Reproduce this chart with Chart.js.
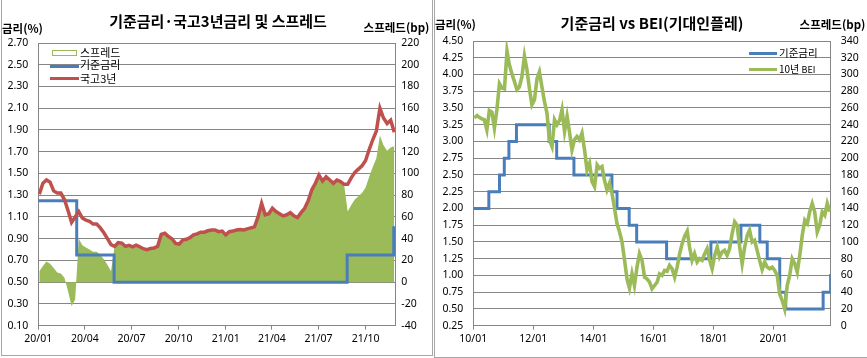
<!DOCTYPE html>
<html><head><meta charset="utf-8">
<script src="https://cdn.jsdelivr.net/npm/chart.js@4.4.1/dist/chart.umd.min.js"></script>
<style>
html,body{margin:0;padding:0;background:#fff;}
body{width:867px;height:358px;position:relative;overflow:hidden;font-family:"Noto Sans CJK KR","Noto Sans",sans-serif;color:#000;}
canvas{position:absolute;top:0;}
.frame{position:absolute;border:1px solid #a6a6a6;box-sizing:border-box;pointer-events:none;}
.t{position:absolute;white-space:nowrap;line-height:1;transform:translate(-50%,-50%);}
.b{font-weight:bold;}
.lg{position:absolute;white-space:nowrap;line-height:1;transform:translateY(-50%);font-size:11px;}
.ln{position:absolute;height:3px;}
</style></head>
<body>
<div class="frame" style="left:1px;top:-1px;width:432px;height:357px;"></div>
<div class="frame" style="left:434px;top:-1px;width:440px;height:359px;"></div>
<canvas id="c1" width="433" height="358" style="left:0"></canvas>
<canvas id="c2" width="434" height="358" style="left:433px"></canvas>

<div class="t b" style="left:218px;top:20px;font-size:15px;">기준금리·국고3년금리 및 스프레드</div>
<div class="t b" style="left:22.5px;top:29px;font-size:11.5px;">금리(%)</div>
<div class="t b" style="left:396.5px;top:27.5px;font-size:11.5px;">스프레드(bp)</div>
<div style="position:absolute;left:52px;top:50px;width:25px;height:6px;border:1px solid #9BBB59;box-sizing:border-box;background:#fff;"></div>
<div class="lg" style="left:80px;top:52px;">스프레드</div>
<div class="ln" style="left:50px;top:64.5px;width:29px;background:#4A7EBB;"></div>
<div class="lg" style="left:80px;top:64px;">기준금리</div>
<div class="ln" style="left:50px;top:77px;width:29px;background:#C0504D;"></div>
<div class="lg" style="left:80px;top:78px;">국고3년</div>

<div class="t b" style="left:652px;top:21.5px;font-size:15px;">기준금리 vs BEI(기대인플레)</div>
<div class="t b" style="left:455.5px;top:25px;font-size:11.5px;">금리(%)</div>
<div class="t b" style="left:832.5px;top:25px;font-size:11.5px;">스프레드(bp)</div>
<div class="ln" style="left:749px;top:51.5px;width:28px;background:#4A7EBB;"></div>
<div class="lg" style="left:779px;top:53px;font-size:10.5px;">기준금리</div>
<div class="ln" style="left:749px;top:68px;width:28px;background:#9BBB59;"></div>
<div class="lg" style="left:779px;top:69px;font-size:10px;">10년 <span style="font-size:9px">BEI</span></div>

<script>
// ---------- Left chart data ----------
const leftBase = '2020-01-01';
const leftXMax = '2021-11-28';
const leftTickDates = ['2020-01-01','2020-04-01','2020-07-01','2020-10-01','2021-01-01','2021-04-01','2021-07-01','2021-10-01'];
const leftTickLabels = ['20/01','20/04','20/07','20/10','21/01','21/04','21/07','21/10'];
const weeklyStart = '2020-01-03'; // weekly observations (every 7 days)
const ktb3y = [1.31,1.41,1.44,1.42,1.34,1.32,1.32,1.26,1.16,1.05,
 1.10,1.15,1.09,1.07,1.06,1.035,1.035,1.00,0.955,0.90,
 0.845,0.83,0.865,0.86,0.83,0.84,0.826,0.84,0.826,0.808,
 0.80,0.81,0.815,0.83,0.94,0.95,0.92,0.90,0.857,0.85,
 0.888,0.895,0.91,0.935,0.945,0.96,0.96,0.973,0.98,0.98,
 0.965,0.97,0.935,0.965,0.97,0.98,0.985,0.98,0.99,1.00,
 1.01,1.10,1.225,1.12,1.13,1.18,1.15,1.13,1.11,1.12,
 1.14,1.11,1.095,1.14,1.18,1.25,1.35,1.41,1.485,1.43,
 1.47,1.44,1.41,1.44,1.425,1.40,1.40,1.46,1.51,1.54,
 1.57,1.62,1.72,1.81,1.89,2.10,2.01,1.96,1.99,1.88];
const spreadBp = [10,15,19,17,13,9,8,4,-8,-22,
 -16,40,34,32,30,28,28,25,21,16,
 10,33,37,36,33,34,33,34,33,31,
 30,31,32,33,44,45,42,40,36,35,
 39,40,41,44,45,46,46,47,48,48,
 47,47,44,47,47,48,49,48,49,50,
 51,60,72,62,63,68,65,63,61,62,
 64,61,60,64,68,75,85,91,98,93,
 97,94,91,94,93,90,65,71,76,79,
 82,87,97,106,114,135,126,121,124,125];
const baseDatesL = ['2020-01-01','2020-03-16','2020-05-28','2021-08-26','2021-11-25','2021-11-28'];
const baseRateL = [1.25,0.75,0.50,0.75,1.00,1.00];

// ---------- Right chart data ----------
const rightBase = '2010-01-01';
const rightXMax = '2021-11-26';
const rightTickDates = ['2010-01-01','2012-01-01','2014-01-01','2016-01-01','2018-01-01','2020-01-01'];
const rightTickLabels = ['10/01','12/01','14/01','16/01','18/01','20/01'];
const beiStartYear = 2010; // monthly, mid-month observations from Jan 2010
const bei10y = [
 248,251,249,247,246,234,257,255,236,258,289,284,
 283,328,312,301,292,282,285,297,322,306,283,264,
 270,295,303,285,268,254,222,214,246,240,245,258,
 232,250,232,210,222,226,222,230,210,186,194,172,
 166,192,188,190,174,162,170,158,140,122,112,100,
 78,55,45,62,48,70,86,78,58,56,52,44,
 48,52,62,60,66,65,72,68,58,70,86,98,
 107,113,94,78,86,76,80,78,86,92,78,68,
 84,94,82,88,90,84,92,110,124,120,94,74,
 94,108,114,100,102,90,78,67,76,70,68,70,
 66,60,38,30,20,48,60,80,74,64,84,108,
 126,122,136,146,136,112,120,136,132,146,136];
const baseDatesR = ['2010-01-01','2010-07-09','2010-11-16','2011-01-13','2011-03-10','2011-06-10','2012-07-12','2012-10-11','2013-05-09','2014-08-14','2014-10-15','2015-03-12','2015-06-11','2016-06-09','2017-11-30','2018-11-30','2019-07-18','2019-10-16','2020-03-16','2020-05-28','2021-08-26','2021-11-25','2021-11-26'];
const baseRateR = [2.00,2.25,2.50,2.75,3.00,3.25,3.00,2.75,2.50,2.25,2.00,1.75,1.50,1.25,1.50,1.75,1.50,1.25,0.75,0.50,0.75,1.00,1.00];

// ---------- helpers ----------
const DAY = 86400000;
const dayOff = (d, base) => (Date.parse(d) - Date.parse(base)) / DAY;
const GRID = '#868686';
const BLUE = '#4A7EBB', RED = '#C0504D', GREEN = '#9BBB59';
Chart.defaults.font.family = '"Noto Sans","Noto Sans CJK KR",sans-serif';
Chart.defaults.font.size = 10.5;
Chart.defaults.color = '#000';

function fixedWidth(w){ return s => { s.width = w; }; }
function fixedHeight(h){ return s => { s.height = h; }; }

// ---------- left chart ----------
const wk0 = dayOff(weeklyStart, leftBase);
const k3Pts = ktb3y.map((v,i) => ({x: wk0 + 7*i, y: v}));
const spPts = spreadBp.map((v,i) => ({x: wk0 + 7*i, y: v}));
const baseLPts = baseDatesL.map((d,i) => ({x: dayOff(d, leftBase), y: baseRateL[i]}));

new Chart(document.getElementById('c1'), {
  type: 'line',
  data: { datasets: [
    {label:'국고3년', data:k3Pts, yAxisID:'y', borderColor:RED, borderWidth:3.5, pointRadius:0, tension:0, fill:false},
    {label:'기준금리', data:baseLPts, yAxisID:'y', borderColor:BLUE, borderWidth:3, pointRadius:0, stepped:'before', fill:false},
    {label:'스프레드', data:spPts, yAxisID:'y1', borderColor:GREEN, backgroundColor:GREEN, borderWidth:0, pointRadius:0, tension:0, fill:'origin'}
  ]},
  options: {
    responsive:false, animation:false, events:[],
    layout:{padding:{top:43,left:0,right:0,bottom:0}},
    plugins:{legend:{display:false}, tooltip:{enabled:false}},
    scales:{
      x:{type:'linear', min:0, max:dayOff(leftXMax,leftBase),
        afterBuildTicks: s => { s.ticks = leftTickDates.map(d => ({value: dayOff(d,leftBase)})); },
        afterFit: fixedHeight(32.3),
        grid:{drawOnChartArea:false, drawTicks:true, tickLength:4, color:GRID},
        border:{display:true, color:GRID},
        ticks:{autoSkip:false, maxRotation:0, padding:3, callback:(v,i)=>leftTickLabels[i]}},
      y:{position:'left', min:0.1, max:2.7,
        afterFit: fixedWidth(38.3),
        grid:{color:GRID, drawTicks:false},
        border:{display:true, color:GRID},
        ticks:{stepSize:0.2, padding:10, callback:v=>Number(v).toFixed(2)}},
      y1:{position:'right', min:-40, max:220,
        afterFit: fixedWidth(37.7),
        grid:{drawOnChartArea:false, drawTicks:false},
        border:{display:true, color:GRID},
        ticks:{stepSize:20, padding:6, callback:v=>Math.round(v)}}
    }
  }
});

// ---------- right chart ----------
const beiPts = bei10y.map((v,m) => ({x: (Date.UTC(beiStartYear, m, 15) - Date.parse(rightBase))/DAY, y: v}));
const baseRPts = baseDatesR.map((d,i) => ({x: dayOff(d, rightBase), y: baseRateR[i]}));

new Chart(document.getElementById('c2'), {
  type: 'line',
  data: { datasets: [
    {label:'10년 BEI', data:beiPts, yAxisID:'y1', borderColor:GREEN, borderWidth:3.6, pointRadius:0, tension:0, fill:false},
    {label:'기준금리', data:baseRPts, yAxisID:'y', borderColor:BLUE, borderWidth:3, pointRadius:0, stepped:'before', fill:false}
  ]},
  options: {
    responsive:false, animation:false, events:[],
    layout:{padding:{top:41,left:0,right:0,bottom:0}},
    plugins:{legend:{display:false}, tooltip:{enabled:false}},
    scales:{
      x:{type:'linear', min:0, max:dayOff(rightXMax,rightBase),
        afterBuildTicks: s => { s.ticks = rightTickDates.map(d => ({value: dayOff(d,rightBase)})); },
        afterFit: fixedHeight(32.3),
        grid:{drawOnChartArea:false, drawTicks:true, tickLength:4, color:GRID},
        border:{display:true, color:GRID},
        ticks:{autoSkip:false, maxRotation:0, padding:3, callback:(v,i)=>rightTickLabels[i]}},
      y:{position:'left', min:0.25, max:4.5,
        afterFit: fixedWidth(40.3),
        grid:{color:GRID, drawTicks:false},
        border:{display:true, color:GRID},
        ticks:{stepSize:0.25, padding:10, callback:v=>Number(v).toFixed(2)}},
      y1:{position:'right', min:0, max:340,
        afterFit: fixedWidth(36.3),
        grid:{drawOnChartArea:false, drawTicks:false},
        border:{display:true, color:GRID},
        ticks:{stepSize:20, padding:10, callback:v=>Math.round(v)}}
    }
  }
});
</script>
</body></html>
